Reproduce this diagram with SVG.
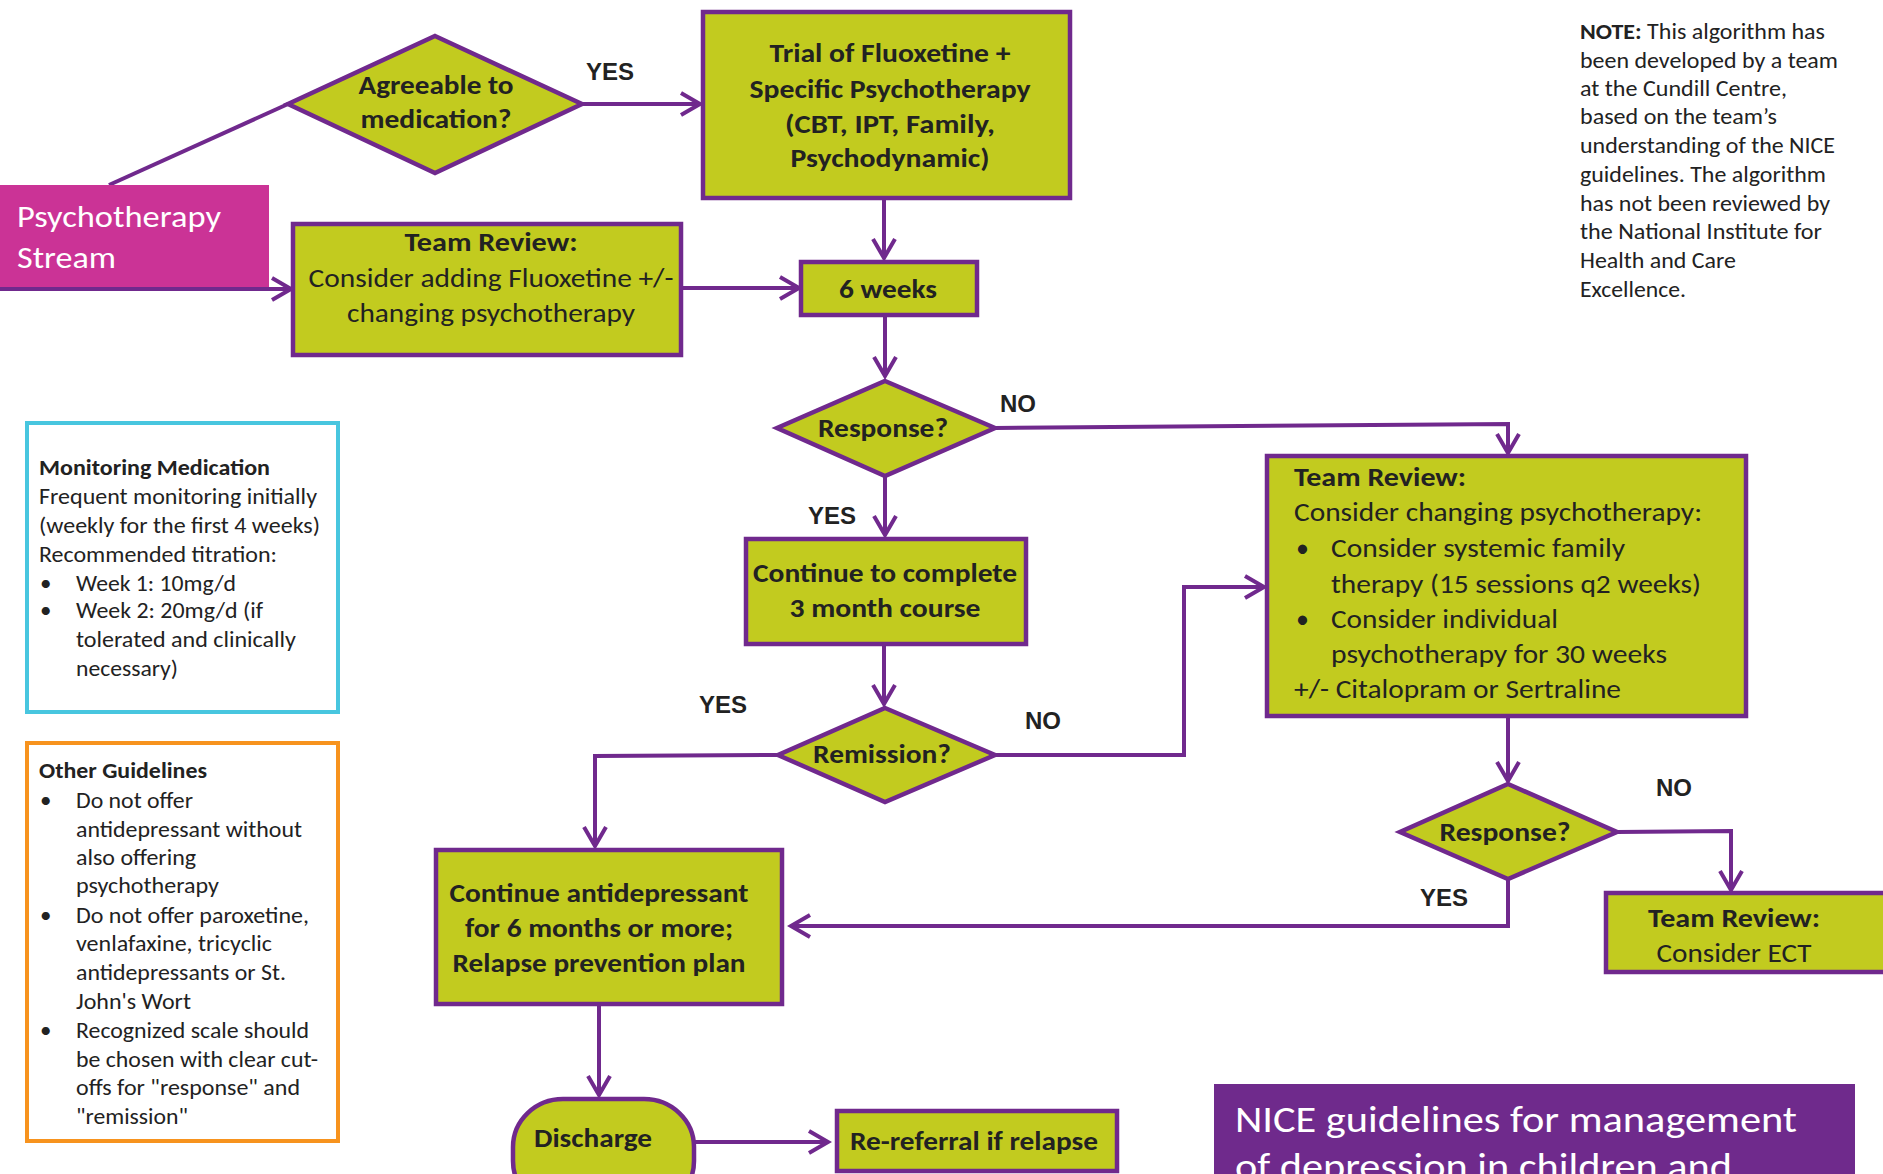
<svg xmlns="http://www.w3.org/2000/svg" width="1883" height="1174" viewBox="0 0 1883 1174">
<style>
.box{fill:#C2CB1F;stroke:#70298D;stroke-width:4.5}
.con{fill:none;stroke:#70298D;stroke-width:4}
.t{font-family:Carlito,Lato,"Open Sans",sans-serif;fill:#222}
.b{font-weight:bold;font-size:27px}
.r{font-size:26px}
.s{font-size:23px}
.n{font-size:21.5px}
.c{text-anchor:middle}
.yn{font-family:"Liberation Sans",Arial,sans-serif;font-weight:bold;font-size:24px;fill:#222}
.w{fill:#fff}
</style>
<defs>
<marker id="arr" viewBox="-22 -13 26 26" refX="0" refY="0" markerWidth="26" markerHeight="26" markerUnits="userSpaceOnUse" orient="auto">
<path d="M-19,-11 L0,0 L-19,11" fill="none" stroke="#70298D" stroke-width="4"/>
</marker>
</defs>
<rect width="1883" height="1174" fill="#fff"/>

<g id="connectors">
<line class="con" x1="109" y1="185" x2="288" y2="104"/>
<line class="con" x1="583" y1="104" x2="700" y2="104" marker-end="url(#arr)"/>
<line class="con" x1="884" y1="198" x2="884" y2="258" marker-end="url(#arr)"/>
<line class="con" x1="0" y1="289" x2="291" y2="289" marker-end="url(#arr)"/>
<line class="con" x1="681" y1="288" x2="799" y2="288" marker-end="url(#arr)"/>
<line class="con" x1="885" y1="315" x2="885" y2="376" marker-end="url(#arr)"/>
<polyline class="con" points="995,428 1508,424 1508,453" marker-end="url(#arr)"/>
<line class="con" x1="885" y1="476" x2="885" y2="535" marker-end="url(#arr)"/>
<line class="con" x1="884" y1="644" x2="884" y2="704" marker-end="url(#arr)"/>
<polyline class="con" points="995,755 1184,755 1184,587 1264,587" marker-end="url(#arr)"/>
<polyline class="con" points="778,755 595,756 595,846" marker-end="url(#arr)"/>
<line class="con" x1="1508" y1="716" x2="1508" y2="781" marker-end="url(#arr)"/>
<polyline class="con" points="1617,832 1731,831 1731,890" marker-end="url(#arr)"/>
<polyline class="con" points="1508,879 1508,926 791,926" marker-end="url(#arr)"/>
<line class="con" x1="599" y1="1004" x2="599" y2="1095" marker-end="url(#arr)"/>
<line class="con" x1="694" y1="1142" x2="828" y2="1142" marker-end="url(#arr)"/>
</g>

<g id="labels">
<text class="yn" x="586" y="80">YES</text>
<text class="yn" x="1000" y="412">NO</text>
<text class="yn" x="808" y="524">YES</text>
<text class="yn" x="699" y="713">YES</text>
<text class="yn" x="1025" y="729">NO</text>
<text class="yn" x="1420" y="906">YES</text>
<text class="yn" x="1656" y="796">NO</text>
</g>

<g id="stream">
<rect x="0" y="185" width="269" height="103" fill="#CB3396"/>
<line class="con" x1="0" y1="289" x2="269" y2="289"/>
<text class="t w" x="17" y="227" font-size="31" textLength="204" lengthAdjust="spacingAndGlyphs">Psychotherapy</text>
<text class="t w" x="17" y="268" font-size="31" textLength="99" lengthAdjust="spacingAndGlyphs">Stream</text>
</g>

<g id="agreeable">
<polygon class="box" points="435,36 582,104 435,173 288,104"/>
<text class="t b c" x="436" y="94" textLength="155" lengthAdjust="spacingAndGlyphs">Agreeable to</text>
<text class="t b c" x="436" y="128" textLength="151" lengthAdjust="spacingAndGlyphs">medication?</text>
</g>

<g id="trial">
<rect class="box" x="703" y="12" width="367" height="186"/>
<text class="t b c" x="890" y="62" textLength="241" lengthAdjust="spacingAndGlyphs">Trial of Fluoxetine +</text>
<text class="t b c" x="890" y="98" textLength="281" lengthAdjust="spacingAndGlyphs">Specific Psychotherapy</text>
<text class="t b c" x="890" y="133" textLength="210" lengthAdjust="spacingAndGlyphs">(CBT, IPT, Family,</text>
<text class="t b c" x="890" y="167" textLength="199" lengthAdjust="spacingAndGlyphs">Psychodynamic)</text>
</g>

<g id="review1">
<rect class="box" x="293" y="224" width="388" height="131"/>
<text class="t b c" x="491" y="251" textLength="173" lengthAdjust="spacingAndGlyphs">Team Review:</text>
<text class="t r c" x="491" y="287" textLength="365" lengthAdjust="spacingAndGlyphs">Consider adding Fluoxetine +/-</text>
<text class="t r c" x="491" y="322" textLength="288" lengthAdjust="spacingAndGlyphs">changing psychotherapy</text>
</g>

<g id="weeks6">
<rect class="box" x="801" y="262" width="176" height="53"/>
<text class="t b c" x="888" y="298" textLength="98" lengthAdjust="spacingAndGlyphs">6 weeks</text>
</g>

<g id="response1">
<polygon class="box" points="885,381 995,428 885,476 777,428"/>
<text class="t b c" x="883" y="437" textLength="130" lengthAdjust="spacingAndGlyphs">Response?</text>
</g>

<g id="continue3">
<rect class="box" x="746" y="539" width="280" height="105"/>
<text class="t b c" x="885" y="582" textLength="264" lengthAdjust="spacingAndGlyphs">Continue to complete</text>
<text class="t b c" x="885" y="617" textLength="191" lengthAdjust="spacingAndGlyphs">3 month course</text>
</g>

<g id="remission">
<polygon class="box" points="885,708 995,755 885,802 778,755"/>
<text class="t b c" x="882" y="763" textLength="138" lengthAdjust="spacingAndGlyphs">Remission?</text>
</g>

<g id="review2">
<rect class="box" x="1267" y="456" width="479" height="260"/>
<text class="t b" x="1294" y="486" textLength="172" lengthAdjust="spacingAndGlyphs">Team Review:</text>
<text class="t r" x="1294" y="521" textLength="408" lengthAdjust="spacingAndGlyphs">Consider changing psychotherapy:</text>
<text class="t r" x="1296" y="557">•</text>
<text class="t r" x="1331" y="557" textLength="294" lengthAdjust="spacingAndGlyphs">Consider systemic family</text>
<text class="t r" x="1331" y="593" textLength="370" lengthAdjust="spacingAndGlyphs">therapy (15 sessions q2 weeks)</text>
<text class="t r" x="1296" y="628">•</text>
<text class="t r" x="1331" y="628" textLength="227" lengthAdjust="spacingAndGlyphs">Consider individual</text>
<text class="t r" x="1331" y="663" textLength="336" lengthAdjust="spacingAndGlyphs">psychotherapy for 30 weeks</text>
<text class="t r" x="1294" y="698" textLength="327" lengthAdjust="spacingAndGlyphs">+/- Citalopram or Sertraline</text>
</g>

<g id="response2">
<polygon class="box" points="1508,784 1617,832 1508,879 1400,832"/>
<text class="t b c" x="1505" y="841" textLength="131" lengthAdjust="spacingAndGlyphs">Response?</text>
</g>

<g id="ect">
<rect class="box" x="1606" y="893" width="300" height="79"/>
<text class="t b c" x="1734" y="927" textLength="172" lengthAdjust="spacingAndGlyphs">Team Review:</text>
<text class="t r c" x="1734" y="962" textLength="155" lengthAdjust="spacingAndGlyphs">Consider ECT</text>
</g>

<g id="continue6">
<rect class="box" x="436" y="850" width="346" height="154"/>
<text class="t b c" x="599" y="902" textLength="299" lengthAdjust="spacingAndGlyphs">Continue antidepressant</text>
<text class="t b c" x="599" y="937" textLength="268" lengthAdjust="spacingAndGlyphs">for 6 months or more;</text>
<text class="t b c" x="599" y="972" textLength="293" lengthAdjust="spacingAndGlyphs">Relapse prevention plan</text>
</g>

<g id="discharge">
<rect class="box" x="513" y="1099" width="181" height="110" rx="50" ry="48"/>
<text class="t b c" x="593" y="1147" textLength="118" lengthAdjust="spacingAndGlyphs">Discharge</text>
</g>

<g id="rereferral">
<rect class="box" x="837" y="1111" width="280" height="60"/>
<text class="t b c" x="974" y="1150" textLength="248" lengthAdjust="spacingAndGlyphs">Re-referral if relapse</text>
</g>

<g id="monitoring">
<rect x="27" y="423" width="311" height="289" fill="#fff" stroke="#48C6DF" stroke-width="4"/>
<text class="t s" x="39" y="475" font-weight="bold" textLength="231" lengthAdjust="spacingAndGlyphs">Monitoring Medication</text>
<text class="t s" x="39" y="504" textLength="278" lengthAdjust="spacingAndGlyphs">Frequent monitoring initially</text>
<text class="t s" x="39" y="533" textLength="281" lengthAdjust="spacingAndGlyphs">(weekly for the first 4 weeks)</text>
<text class="t s" x="39" y="562" textLength="238" lengthAdjust="spacingAndGlyphs">Recommended titration:</text>
<text class="t s" x="40" y="591">•</text>
<text class="t s" x="76" y="591" textLength="160" lengthAdjust="spacingAndGlyphs">Week 1: 10mg/d</text>
<text class="t s" x="40" y="618">•</text>
<text class="t s" x="76" y="618" textLength="187" lengthAdjust="spacingAndGlyphs">Week 2: 20mg/d (if</text>
<text class="t s" x="76" y="647" textLength="220" lengthAdjust="spacingAndGlyphs">tolerated and clinically</text>
<text class="t s" x="76" y="676" textLength="102" lengthAdjust="spacingAndGlyphs">necessary)</text>
</g>

<g id="guidelines">
<rect x="27" y="743" width="311" height="398" fill="#fff" stroke="#F7931E" stroke-width="4"/>
<text class="t s" x="39" y="778" font-weight="bold" textLength="168" lengthAdjust="spacingAndGlyphs">Other Guidelines</text>
<text class="t s" x="40" y="808">•</text>
<text class="t s" x="76" y="808" textLength="117" lengthAdjust="spacingAndGlyphs">Do not offer</text>
<text class="t s" x="76" y="837" textLength="226" lengthAdjust="spacingAndGlyphs">antidepressant without</text>
<text class="t s" x="76" y="865" textLength="120" lengthAdjust="spacingAndGlyphs">also offering</text>
<text class="t s" x="76" y="893" textLength="143" lengthAdjust="spacingAndGlyphs">psychotherapy</text>
<text class="t s" x="40" y="923">•</text>
<text class="t s" x="76" y="923" textLength="233" lengthAdjust="spacingAndGlyphs">Do not offer paroxetine,</text>
<text class="t s" x="76" y="951" textLength="196" lengthAdjust="spacingAndGlyphs">venlafaxine, tricyclic</text>
<text class="t s" x="76" y="980" textLength="210" lengthAdjust="spacingAndGlyphs">antidepressants or St.</text>
<text class="t s" x="76" y="1009" textLength="115" lengthAdjust="spacingAndGlyphs">John's Wort</text>
<text class="t s" x="40" y="1038">•</text>
<text class="t s" x="76" y="1038" textLength="233" lengthAdjust="spacingAndGlyphs">Recognized scale should</text>
<text class="t s" x="76" y="1067" textLength="242" lengthAdjust="spacingAndGlyphs">be chosen with clear cut-</text>
<text class="t s" x="76" y="1095" textLength="224" lengthAdjust="spacingAndGlyphs">offs for "response" and</text>
<text class="t s" x="76" y="1124" textLength="112" lengthAdjust="spacingAndGlyphs">"remission"</text>
</g>

<g id="note">
<text class="t n" x="1580" y="39" textLength="245" lengthAdjust="spacingAndGlyphs"><tspan font-weight="bold">NOTE:</tspan> This algorithm has</text>
<text class="t n" x="1580" y="68" textLength="258" lengthAdjust="spacingAndGlyphs">been developed by a team</text>
<text class="t n" x="1580" y="96" textLength="207" lengthAdjust="spacingAndGlyphs">at the Cundill Centre,</text>
<text class="t n" x="1580" y="124" textLength="197" lengthAdjust="spacingAndGlyphs">based on the team’s</text>
<text class="t n" x="1580" y="153" textLength="255" lengthAdjust="spacingAndGlyphs">understanding of the NICE</text>
<text class="t n" x="1580" y="182" textLength="246" lengthAdjust="spacingAndGlyphs">guidelines. The algorithm</text>
<text class="t n" x="1580" y="211" textLength="250" lengthAdjust="spacingAndGlyphs">has not been reviewed by</text>
<text class="t n" x="1580" y="239" textLength="242" lengthAdjust="spacingAndGlyphs">the National Institute for</text>
<text class="t n" x="1580" y="268" textLength="156" lengthAdjust="spacingAndGlyphs">Health and Care</text>
<text class="t n" x="1580" y="297" textLength="106" lengthAdjust="spacingAndGlyphs">Excellence.</text>
</g>

<g id="title">
<rect x="1214" y="1084" width="641" height="120" fill="#6F2A8C"/>
<text class="t w" x="1235" y="1132" font-size="37" textLength="562" lengthAdjust="spacingAndGlyphs">NICE guidelines for management</text>
<text class="t w" x="1235" y="1179" font-size="37" textLength="497" lengthAdjust="spacingAndGlyphs">of depression in children and</text>
</g>
</svg>
